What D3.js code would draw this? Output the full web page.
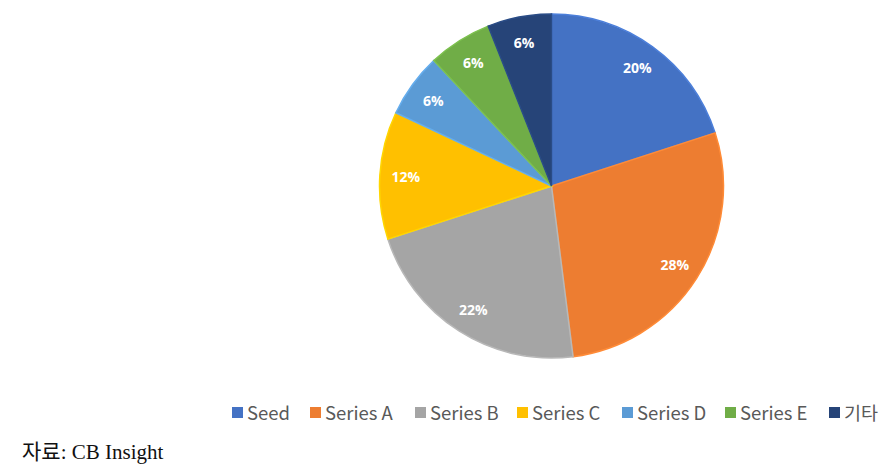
<!DOCTYPE html>
<html><head><meta charset="utf-8">
<script src="https://cdn.jsdelivr.net/npm/d3@7"></script>
<style>body{margin:0;background:#fff;}svg{display:block;}</style>
</head><body>
<svg id="c" width="893" height="472"></svg>
<script>
const categories = ["Seed", "Series A", "Series B", "Series C", "Series D", "Series E", "기타"];
const values = [20, 28, 22, 12, 6, 6, 6];
const colors = ["#4472C4", "#ED7D31", "#A5A5A5", "#FFC000", "#5B9BD5", "#70AD47", "#264478"];
const sourceText = "자료: CB Insight";

const svg = d3.select("#c");
const cx = 551.5, cy = 186, R = 172;
const data = categories.map((c, i) => ({cat: c, v: values[i], col: colors[i]}));
const pie = d3.pie().value(d => d.v).sort(null);
const arcs = pie(data);
const arc = d3.arc().innerRadius(0).outerRadius(R);
const labelArc = d3.arc().innerRadius(146).outerRadius(146);

const g = svg.append("g").attr("transform", `translate(${cx},${cy})`);
g.selectAll("path").data(arcs).join("path")
  .attr("d", arc)
  .attr("fill", d => d.data.col)
  .attr("stroke", d => d3.color(d.data.col).brighter(0.3))
  .attr("stroke-width", 1.5);

g.selectAll("text").data(arcs).join("text")
  .attr("transform", d => `translate(${labelArc.centroid(d)})`)
  .attr("text-anchor", "middle")
  .attr("dominant-baseline", "central")
  .attr("fill", "#fff")
  .attr("font-family", "'Open Sans', 'Noto Sans', sans-serif")
  .attr("font-weight", "bold")
  .attr("font-size", 14)
  .text(d => d.data.v + "%");

// legend
const legendX = [232, 310, 415, 517, 622, 725, 829];
const lg = svg.append("g");
data.forEach((d, i) => {
  const x = legendX[i];
  lg.append("rect").attr("x", x).attr("y", 407).attr("width", 11).attr("height", 11).attr("fill", d.col);
  lg.append("text").attr("x", x + 15).attr("y", 420)
    .attr("font-family", "'Noto Sans CJK KR', 'Noto Sans', sans-serif")
    .attr("font-size", 18.5).attr("fill", "#595959")
    .text(d.cat);
});

svg.append("text").attr("x", 22).attr("y", 459)
  .attr("font-family", "'Liberation Serif', 'Noto Sans CJK KR', serif")
  .attr("font-size", 21).attr("fill", "#111")
  .text(sourceText);
</script>
</body></html>
